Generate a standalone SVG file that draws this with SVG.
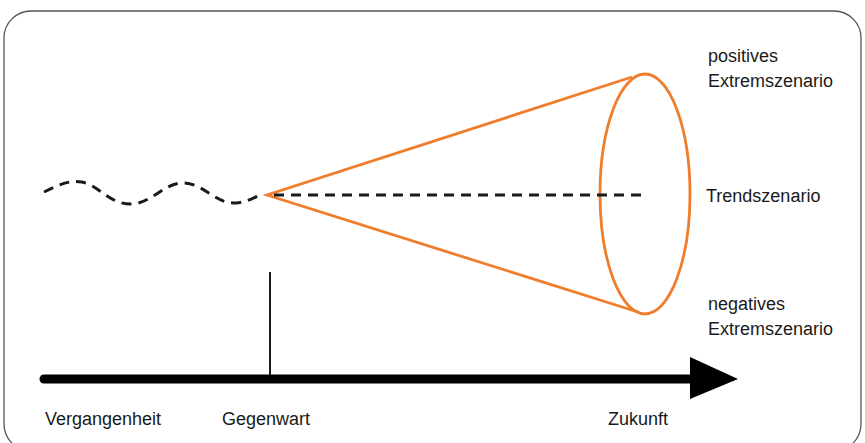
<svg xmlns="http://www.w3.org/2000/svg" width="865" height="443" viewBox="0 0 865 443">
<defs>
<style>
.t{font-family:"Liberation Sans",Arial,sans-serif;font-size:18px;fill:#1a1a1a}
.o{fill:none;stroke:#ef7d2b;stroke-width:2.8}
.d{fill:none;stroke:#1a1a1a;stroke-width:3;stroke-dasharray:10 7}
</style>
</defs>
<rect x="4" y="11" width="857" height="440" rx="27" fill="#fff" stroke="#555" stroke-width="1.3"/>
<g id="past">
<path class="d" d="M44 192 C60 184 70 180 82 182 C100 186 110 205 132 204 C152 203 165 182 184 183 C205 184 215 204 236 203 C248 202 255 197 262 194"/>
</g>
<g id="cone">
<ellipse class="o" cx="645" cy="194" rx="45" ry="120"/>
<path class="o" d="M632 77 L267 195 L638 312"/>
</g>
<g id="connectors">
<line class="d" x1="274" y1="195" x2="642" y2="195"/>
<line x1="270" y1="272" x2="270" y2="379" stroke="#1a1a1a" stroke-width="2"/>
<line x1="44" y1="379" x2="692" y2="379" stroke="#000" stroke-width="9" stroke-linecap="round"/>
<polygon points="690,357 738,379 690,399" fill="#000"/>
</g>
<g id="labels">
<text class="t" x="708" y="62">positives</text>
<text class="t" x="708" y="87">Extremszenario</text>
<text class="t" x="706" y="202">Trendszenario</text>
<text class="t" x="708" y="310">negatives</text>
<text class="t" x="708" y="335">Extremszenario</text>
<text class="t" x="45" y="425">Vergangenheit</text>
<text class="t" x="222" y="425">Gegenwart</text>
<text class="t" x="608" y="425">Zukunft</text>
</g>
</svg>
